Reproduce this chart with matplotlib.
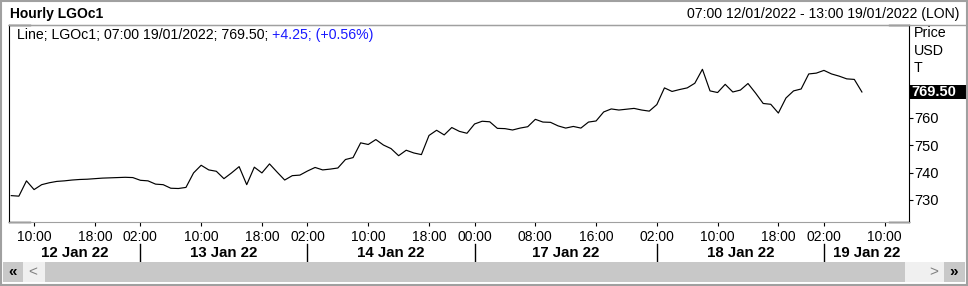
import pandas as pd
import matplotlib
matplotlib.use("Agg")
import matplotlib.pyplot as plt
from matplotlib.patches import Rectangle
from matplotlib.lines import Line2D

plt.rcParams['font.family'] = ['Liberation Sans', 'DejaVu Sans']

# trading sessions: (day, first hour, last hour) of hourly bars
sessions = [("2022-01-12", 7, 23), ("2022-01-13", 2, 23), ("2022-01-14", 2, 23),
            ("2022-01-17", 0, 23), ("2022-01-18", 2, 23), ("2022-01-19", 2, 13)]
day_labels = ["12 Jan 22", "13 Jan 22", "14 Jan 22", "17 Jan 22", "18 Jan 22", "19 Jan 22"]

# hourly close, LGOc1
prices = [731.6, 731.4, 737.0, 733.8, 735.6, 736.3, 736.8, 737.0, 737.3, 737.5,
          737.6, 737.8, 738.0, 738.1, 738.2, 738.3, 738.2, 737.2, 737.0, 735.8,
          735.6, 734.3, 734.2, 734.6, 739.9, 742.7, 741.0, 740.5, 737.8, 739.9,
          742.2, 735.6, 742.0, 739.9, 743.2, 740.2, 737.3, 738.9, 739.1, 740.6,
          741.9, 741.0, 741.3, 741.7, 744.8, 745.5, 750.9, 750.3, 752.1, 750.1,
          748.8, 746.2, 748.2, 747.2, 746.6, 753.6, 755.5, 753.8, 756.5, 755.1,
          754.4, 757.8, 758.8, 758.6, 756.2, 756.1, 755.6, 756.3, 756.8, 759.5,
          758.5, 758.4, 757.1, 756.3, 756.9, 756.3, 758.5, 758.9, 762.2, 763.3,
          762.9, 763.2, 763.5, 762.9, 762.5, 764.9, 771.0, 769.7, 770.4, 771.0,
          772.7, 777.8, 769.9, 769.3, 772.3, 769.5, 770.2, 772.6, 769.1, 765.3,
          765.0, 761.8, 767.3, 769.9, 770.6, 776.1, 776.4, 777.4, 776.1, 775.3,
          774.3, 774.1, 769.5]

tick_times = ["2022-01-12 10:00", "2022-01-12 18:00", "2022-01-13 02:00",
              "2022-01-13 10:00", "2022-01-13 18:00", "2022-01-14 02:00",
              "2022-01-14 10:00", "2022-01-14 18:00", "2022-01-17 00:00",
              "2022-01-17 08:00", "2022-01-17 16:00", "2022-01-18 02:00",
              "2022-01-18 10:00", "2022-01-18 18:00", "2022-01-19 02:00",
              "2022-01-19 10:00"]
y_ticks = [730, 740, 750, 760]

last_price = 769.50
change = 4.25
change_pct = 0.56

# build the bar timeline
bar_times = []
day_starts = []
for day, h0, h1 in sessions:
    day_starts.append(len(bar_times))
    for h in range(h0, h1 + 1):
        bar_times.append(pd.Timestamp(day) + pd.Timedelta(hours=h))
tick_idx = [bar_times.index(pd.Timestamp(t)) for t in tick_times]
tick_labels = [t[-5:] for t in tick_times]

W, H = 968, 286


def fx(px):
    return px / W


def fy(py):
    return 1 - py / H


fig = plt.figure(figsize=(W / 100, H / 100), dpi=100)
fig.patch.set_facecolor("white")

ax = fig.add_axes([fx(9), fy(222), (909 - 9) / W, (222 - 25) / H])
ax.plot(range(len(prices)), prices, color="black", lw=0.85)
xlim = (-0.3, 118.2)
ax.set_xlim(*xlim)
ax.set_ylim(721.95, 794.0)

# frame: gray with black corners
for side in ["top", "bottom"]:
    ax.spines[side].set_color("#a0a0a0")
for side in ["left", "right"]:
    ax.spines[side].set_color("black")
for x0, x1 in [(0, 21 / 900), (1 - 20 / 900, 1)]:
    for y in [0, 1]:
        ax.add_line(Line2D([x0, x1], [y, y], transform=ax.transAxes,
                           color="black", lw=1, clip_on=False))

ax.yaxis.tick_right()
ax.set_yticks(y_ticks)
ax.set_yticklabels([str(v) for v in y_ticks])
ax.tick_params(axis="y", direction="out", length=3, pad=1, labelsize=10.5, colors="black")
ax.set_xticks(tick_idx)
ax.set_xticklabels(tick_labels)
ax.tick_params(axis="x", direction="out", length=3, pad=3, labelsize=10, colors="black")

# day labels and separators
bounds = [xlim[0]] + day_starts[1:] + [xlim[1]]
xt = ax.get_xaxis_transform()
for i, lab in enumerate(day_labels):
    ax.text((bounds[i] + bounds[i + 1]) / 2, -0.157, lab, transform=xt,
            ha="center", va="center", fontsize=10.8, fontweight="bold")
for s in day_starts[1:]:
    ax.add_line(Line2D([s, s], [-0.112, -0.203], transform=xt, color="black",
                       lw=1, clip_on=False))

# last price marker
yt = ax.get_yaxis_transform()
ax.add_patch(Rectangle((1.001, last_price - 2.6), 0.062, 5.2, transform=yt,
                       facecolor="black", edgecolor="none", clip_on=False))
ax.text(1.003, last_price, f"{last_price:.2f}", transform=yt, ha="left", va="center",
        color="white", fontsize=10.5, fontweight="bold")

# header
fig.text(fx(10), fy(14), "Hourly LGOc1", ha="left", va="center",
         fontsize=10, fontweight="bold")
fig.text(fx(959), fy(14), "07:00 12/01/2022 - 13:00 19/01/2022 (LON)",
         ha="right", va="center", fontsize=10.1)
fig.add_artist(Line2D([fx(9), fx(966)], [fy(25), fy(25)], color="#a0a0a0", lw=1))
for lab, py in [("Price", 33), ("USD", 51), ("T", 68)]:
    fig.text(fx(914), fy(py), lab, ha="left", va="center", fontsize=10.3)

legend = fig.text(fx(17), fy(35), f"Line; LGOc1; 07:00 19/01/2022; {last_price:.2f};",
                  ha="left", va="center", fontsize=10.2)
renderer = fig.canvas.get_renderer()
bb = legend.get_window_extent(renderer)
fig.text((bb.x1 + 4) / W, fy(35), f"+{change:.2f}; (+{change_pct:.2f}%)",
         ha="left", va="center", fontsize=10.2, color="#1a1aff")

# scroll bar
def box(x0, y0, x1, y1, color):
    fig.add_artist(Rectangle((fx(x0), fy(y1)), (x1 - x0) / W, (y1 - y0) / H,
                             transform=fig.transFigure, facecolor=color,
                             edgecolor="none"))


box(3, 262, 965, 282, "#c8c8c8")
box(23, 262, 45, 282, "#f0f0f0")
box(905, 262, 944, 282, "#f0f0f0")
fig.text(fx(13), fy(272), "«", ha="center", va="center", fontsize=11, fontweight="bold")
fig.text(fx(33), fy(272), "<", ha="center", va="center", fontsize=11, color="#808080")
fig.text(fx(934), fy(272), ">", ha="center", va="center", fontsize=11, color="#808080")
fig.text(fx(954), fy(272), "»", ha="center", va="center", fontsize=11, fontweight="bold")

# outer border
fig.add_artist(Rectangle((0.001, 0.002), 0.998, 0.996, transform=fig.transFigure,
                         facecolor="none", edgecolor="#a0a0a0", lw=1.5))

fig.savefig("out.png", dpi=100)
